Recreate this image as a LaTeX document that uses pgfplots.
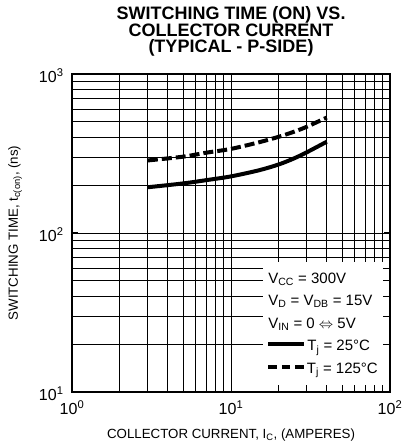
\documentclass[border=0pt]{standalone}
\usepackage{pgfplots}
\pgfplotsset{compat=1.18}
\usepackage{fontspec}
\setmainfont{Liberation Sans}

% T_j = 25 C
\pgfplotstableread{
x y
3 194
5 205
7 215
10 227
15 248
20 270
25 295
30 322
40 375
}\tcold
% T_j = 125 C
\pgfplotstableread{
x y
3 286
5 302
7 320
10 338
15 372
20 403
25 434
30 466
40 532
}\thot

\begin{document}
\begin{tikzpicture}[x=1bp,y=1bp]
\useasboundingbox (-72,-54) rectangle (330,392);
\begin{axis}[
    at={(0,0)}, anchor=south west,
    scale only axis, width=318bp, height=318bp,
    xmode=log, ymode=log,
    xmin=1, xmax=100, ymin=10, ymax=1000,
    xtick={1,10,100}, ytick={10,100,1000},
    xticklabels={10\textsuperscript{0},10\textsuperscript{1},10\textsuperscript{2}},
    yticklabels={10\textsuperscript{1},10\textsuperscript{2},10\textsuperscript{3}},
    ticklabel style={font=\fontsize{16bp}{18bp}\selectfont},
    xticklabel style={yshift=-5bp},
    yticklabel style={xshift=-5bp, yshift=-2bp},
    grid=both,
    major grid style={black, line width=0.9bp},
    minor grid style={black, line width=0.9bp},
    axis line style={black, line width=1.4bp},
    major tick length=6bp, minor tick length=0pt,
    tick style={black, line width=1bp},
    xlabel={COLLECTOR CURRENT, I\textsubscript{C}, (AMPERES)},
    ylabel={SWITCHING TIME, t\textsubscript{c(on)}, (ns)},
    label style={font=\fontsize{13.3bp}{15bp}\selectfont},
    xlabel style={at={(axis description cs:0.5,-0.135)}, anchor=center},
    ylabel style={at={(axis description cs:-0.179,0.5)}, anchor=center},
    title={SWITCHING TIME (ON) VS.\\COLLECTOR CURRENT\\(TYPICAL - P-SIDE)},
    title style={font=\bfseries\fontsize{18bp}{16.5bp}\selectfont, align=center,
        at={(axis description cs:0.5,1)}, anchor=south, yshift=8bp},
]
\addplot[black, line width=4bp, smooth] table[x=x,y=y] {\tcold};
\addplot[black, line width=4bp, smooth, dash pattern=on 10bp off 4bp] table[x=x,y=y] {\thot};
\node[fill=white, anchor=south east, inner xsep=5bp, inner ysep=5bp]
    at (rel axis cs:0.978,0.022) {%
    \fontsize{15bp}{22.5bp}\selectfont
    \begin{tabular}{@{}l@{}}
    V\textsubscript{CC} = 300V\\
    V\textsubscript{D} = V\textsubscript{DB} = 15V\\
    V\textsubscript{IN} = 0 $\Leftrightarrow$ 5V\\
    \rule[0.3em]{36bp}{4bp}\hspace{3bp}T\textsubscript{j} = 25°C\\
    \rule[0.3em]{8.5bp}{4bp}\hspace{5bp}\rule[0.3em]{8.5bp}{4bp}\hspace{5bp}\rule[0.3em]{8.5bp}{4bp}\hspace{3bp}T\textsubscript{j} = 125°C
    \end{tabular}};
\end{axis}
\end{tikzpicture}
\end{document}
